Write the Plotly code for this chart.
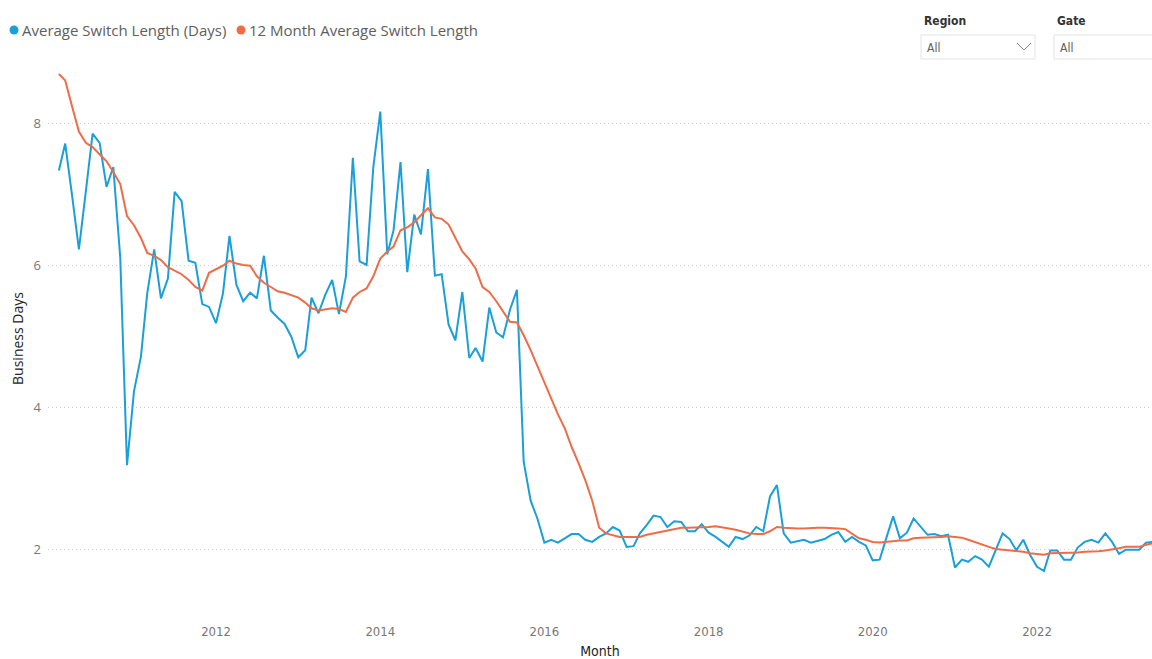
import plotly.graph_objects as go
import pandas as pd

# ---------------- data ----------------
start_month = "2010-02-01"
n_months = 161
months = pd.date_range(start_month, periods=n_months, freq="MS")

avg_switch = [
    7.33, 7.71, 6.97, 6.22, 7.04, 7.85, 7.72, 7.10, 7.38, 6.10,
    3.18, 4.22, 4.71, 5.60, 6.22, 5.53, 5.81, 7.03, 6.90, 6.06,
    6.03, 5.45, 5.41, 5.18, 5.60, 6.41, 5.72, 5.49, 5.61, 5.53,
    6.13, 5.36, 5.26, 5.17, 4.99, 4.70, 4.80, 5.54, 5.32, 5.58,
    5.79, 5.31, 5.84, 7.51, 6.05, 6.00, 7.38, 8.16, 6.15, 6.49,
    7.45, 5.90, 6.71, 6.43, 7.35, 5.85, 5.87, 5.16, 4.94, 5.62,
    4.69, 4.83, 4.64, 5.40, 5.05, 4.98, 5.37, 5.65, 3.23, 2.68,
    2.43, 2.09, 2.13, 2.09, 2.15, 2.21, 2.21, 2.13, 2.10, 2.17,
    2.22, 2.31, 2.26, 2.03, 2.04, 2.22, 2.34, 2.47, 2.45, 2.31,
    2.39, 2.38, 2.25, 2.25, 2.35, 2.23, 2.17, 2.10, 2.03, 2.17,
    2.14, 2.19, 2.31, 2.25, 2.74, 2.90, 2.22, 2.09, 2.11, 2.13,
    2.09, 2.12, 2.14, 2.20, 2.24, 2.10, 2.17, 2.10, 2.05, 1.84,
    1.85, 2.15, 2.46, 2.15, 2.23, 2.43, 2.31, 2.20, 2.21, 2.18,
    2.20, 1.74, 1.85, 1.82, 1.90, 1.85, 1.75, 1.99, 2.22, 2.14,
    1.98, 2.13, 1.92, 1.75, 1.69, 1.98, 1.98, 1.85, 1.85, 2.02,
    2.10, 2.13, 2.09, 2.22, 2.10, 1.93, 1.99, 1.99, 1.99, 2.09,
    2.10,
]

avg_12m = [
    8.69, 8.60, 8.23, 7.88, 7.72, 7.66, 7.56, 7.46, 7.31, 7.14,
    6.69, 6.56, 6.38, 6.17, 6.13, 6.07, 5.97, 5.92, 5.87, 5.79,
    5.69, 5.64, 5.89, 5.94, 5.99, 6.06, 6.02, 6.00, 5.99, 5.84,
    5.75, 5.69, 5.63, 5.61, 5.58, 5.54, 5.47, 5.39, 5.36, 5.38,
    5.39, 5.38, 5.34, 5.54, 5.62, 5.67, 5.84, 6.09, 6.19, 6.26,
    6.49, 6.53, 6.60, 6.70, 6.80, 6.67, 6.65, 6.57, 6.38, 6.19,
    6.08, 5.95, 5.69, 5.62, 5.49, 5.34, 5.20, 5.19, 5.01, 4.80,
    4.58, 4.36, 4.13, 3.90, 3.70, 3.44, 3.21, 2.97, 2.68, 2.30,
    2.22, 2.19, 2.17, 2.17, 2.17, 2.17, 2.20, 2.22, 2.24, 2.25,
    2.28, 2.30, 2.30, 2.30, 2.30, 2.31, 2.32, 2.31, 2.29, 2.27,
    2.24, 2.22, 2.21, 2.21, 2.25, 2.31, 2.30, 2.29, 2.29, 2.29,
    2.30, 2.30, 2.30, 2.30, 2.29, 2.28, 2.22, 2.15, 2.13, 2.10,
    2.09, 2.10, 2.12, 2.12, 2.12, 2.15, 2.16, 2.16, 2.17, 2.17,
    2.18, 2.17, 2.16, 2.13, 2.10, 2.07, 2.03, 2.00, 1.99, 1.99,
    1.97, 1.96, 1.94, 1.93, 1.92, 1.94, 1.94, 1.95, 1.95, 1.95,
    1.96, 1.96, 1.97, 1.98, 1.99, 2.01, 2.03, 2.03, 2.03, 2.06,
    2.08,
]

series_names = ["Average Switch Length (Days)", "12 Month Average Switch Length"]
x_tick_labels = ["2012", "2014", "2016", "2018", "2020", "2022"]
y_tick_values = [2, 4, 6, 8]
slicer_labels = ["Region", "Gate"]
slicer_values = ["All", "All"]

# ---------------- styling / layout geometry ----------------
BLUE = "#1a9fd9"
ORANGE = "#ee6c47"
W, H = 1152, 659
# plot area, in page pixels
PL, PR, PT, PB = 48, 1152, 65, 612

# x scale (page pixels): 2012-01-01 at 216, 2022-01-01 at 1037
ref_date = pd.Timestamp("2012-01-01")
px_per_day = (1037 - 216) / (pd.Timestamp("2022-01-01") - ref_date).days
x_left = ref_date + pd.Timedelta(days=(PL - 216) / px_per_day)
x_right = ref_date + pd.Timedelta(days=(PR - 216) / px_per_day)

# y scale (page pixels): 8 at 123, 2 at 549
px_per_unit = (549 - 123) / 6.0
y_top = 8 + (123 - PT) / px_per_unit
y_bot = 2 - (PB - 549) / px_per_unit


def fx(p):
    """page pixel x -> paper x"""
    return (p - PL) / (PR - PL)


def fy(p):
    """page pixel y -> paper y"""
    return (PB - p) / (PB - PT)


fig = go.Figure()
fig.add_trace(go.Scatter(x=months, y=avg_switch, mode="lines", name=series_names[0],
                         line=dict(color=BLUE, width=2), showlegend=False))
fig.add_trace(go.Scatter(x=months, y=avg_12m, mode="lines", name=series_names[1],
                         line=dict(color=ORANGE, width=2), showlegend=False))

tick_font = dict(family="DejaVu Sans Condensed, Liberation Sans Narrow, sans-serif", size=13, color="#777777")

fig.update_layout(
    width=W, height=H,
    margin=dict(l=PL, r=W - PR, t=PT, b=H - PB, pad=0),
    paper_bgcolor="white", plot_bgcolor="white",
    showlegend=False,
    xaxis=dict(
        type="date", range=[x_left, x_right],
        tickvals=[pd.Timestamp(f"{y}-01-01") for y in x_tick_labels],
        ticktext=x_tick_labels,
        showgrid=False, zeroline=False, showline=False, ticks="",
        tickfont=tick_font, ticklabelstandoff=10,
        title=dict(text="Month", standoff=11,
                   font=dict(family="DejaVu Sans Condensed, sans-serif", size=14, color="#252423")),
        automargin=False,
    ),
    yaxis=dict(
        range=[y_bot, y_top], tickvals=y_tick_values,
        showgrid=True, gridcolor="#cfcfcf", griddash="1px,3px", gridwidth=1,
        zeroline=False, showline=False, ticks="",
        tickfont=dict(family="Open Sans, sans-serif", size=13, color="#777777"),
        ticklabelstandoff=6,
        title=dict(text="Business Days", standoff=6,
                   font=dict(family="Open Sans, sans-serif", size=14, color="#252423")),
        automargin=False,
    ),
)

shapes = []
annotations = []

# legend (dot + text)
legend_items = [(14, 22, BLUE, series_names[0]), (241, 249, ORANGE, series_names[1])]
for dot_x, text_x, col, name in legend_items:
    shapes.append(dict(type="circle", xref="paper", yref="paper",
                       xsizemode="pixel", ysizemode="pixel",
                       xanchor=fx(dot_x), yanchor=fy(30),
                       x0=-4.5, x1=4.5, y0=-4.5, y1=4.5,
                       fillcolor=col, line=dict(width=0)))
    annotations.append(dict(xref="paper", yref="paper", x=fx(text_x - 2), y=fy(30),
                            xanchor="left", yanchor="middle", showarrow=False,
                            text=name,
                            font=dict(family="Open Sans, sans-serif", size=15, color="#605e5c")))

# slicers
slicer_boxes = [(921, 1035), (1054, 1170)]
for (bx0, bx1), lab, val in zip(slicer_boxes, slicer_labels, slicer_values):
    shapes.append(dict(type="rect", xref="paper", yref="paper",
                       x0=fx(bx0), x1=fx(bx1), y0=fy(59), y1=fy(35),
                       line=dict(color="#e3e3e3", width=1), fillcolor="white"))
    annotations.append(dict(xref="paper", yref="paper", x=fx(bx0 + 1), y=fy(21),
                            xanchor="left", yanchor="middle", showarrow=False, text=lab,
                            font=dict(family="DejaVu Sans Condensed, sans-serif", size=12, color="#333333",
                                      weight="bold")))
    annotations.append(dict(xref="paper", yref="paper", x=fx(bx0 + 4), y=fy(48),
                            xanchor="left", yanchor="middle", showarrow=False, text=val,
                            font=dict(family="DejaVu Sans Condensed, sans-serif", size=12, color="#605e5c")))
    cx = bx1 - 11
    shapes.append(dict(type="path", xref="paper", yref="paper",
                       path=f"M {fx(cx - 7)} {fy(43)} L {fx(cx)} {fy(50)} L {fx(cx + 7)} {fy(43)}",
                       line=dict(color="#8a8886", width=1)))

fig.update_layout(shapes=shapes, annotations=annotations)

page_reset = "document.body.style.margin='0';document.body.style.overflow='hidden';"
fig.write_html("out.html", post_script=page_reset,
               config={"displayModeBar": False, "staticPlot": False})
